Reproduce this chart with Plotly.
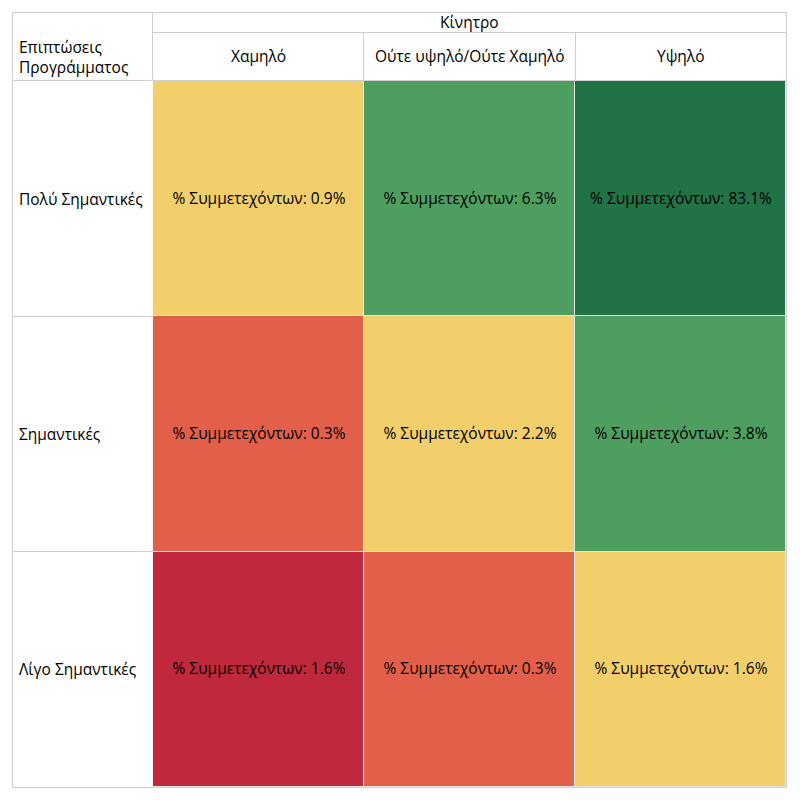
import plotly.graph_objects as go

# ---- data ----
columns = ["Χαμηλό", "Ούτε υψηλό/Ούτε Χαμηλό", "Υψηλό"]
rows = ["Πολύ Σημαντικές", "Σημαντικές", "Λίγο Σημαντικές"]
row_header = "Επιπτώσεις<br>Προγράμματος"
col_header = "Κίνητρο"
pct_very = [0.9, 6.3, 83.1]
pct_important = [0.3, 2.2, 3.8]
pct_little = [1.6, 0.3, 1.6]
level_very = [0, 1, 2]
level_important = [-1, 0, 1]
level_little = [-2, -1, 0]

pct = [pct_very, pct_important, pct_little]
levels = [level_very, level_important, level_little]
text = [[f"% Συμμετεχόντων: {v}%" for v in r] for r in pct]

colorscale = [
    [0.0, "#C0283E"], [0.2, "#C0283E"],
    [0.2, "#E2604A"], [0.4, "#E2604A"],
    [0.4, "#F2CF6A"], [0.6, "#F2CF6A"],
    [0.6, "#4E9E60"], [0.8, "#4E9E60"],
    [0.8, "#217346"], [1.0, "#217346"],
]

OFF = 8  # page body margin
W, H = 784, 784
L, T = 153 - OFF, 81 - OFF
R, B = W - (786 - OFF), H - (787 - OFF)
pw, ph = W - L - R, H - T - B

def px(x):
    return (x - OFF - L) / pw

def py(y):
    return 1 - (y - OFF - T) / ph

FONT = "Open Sans"
FS = 15.5

fig = go.Figure(go.Heatmap(
    z=levels, x=columns, y=rows, zmin=-2.5, zmax=2.5,
    colorscale=colorscale, showscale=False,
    text=text, texttemplate="%{text}",
    textfont=dict(family=FONT, size=15.5, color="#000000"),
    xgap=1, ygap=1, hoverinfo="text",
))

grid = "#d0d0d0"
shapes = []
def line(x0, y0, x1, y1):
    shapes.append(dict(type="line", xref="paper", yref="paper",
                       x0=px(x0), y0=py(y0), x1=px(x1), y1=py(y1),
                       line=dict(color=grid, width=1), layer="above"))

line(12, 12.5, 786.5, 12.5)          # top
line(12.5, 12, 12.5, 787)            # left
line(786.5, 12, 786.5, 787)          # right
line(12, 787.5, 786.5, 787.5)        # bottom
line(152.5, 12, 152.5, 80)           # header divider
line(152, 32.5, 786.5, 32.5)         # header mid
line(363.5, 32, 363.5, 80)
line(575.5, 32, 575.5, 80)
line(12, 80.5, 786.5, 80.5)
line(12, 316.5, 153, 316.5)
line(12, 551.5, 153, 551.5)

ann = [
    dict(text=col_header, x=px(469), y=py(22), xref="paper", yref="paper",
         showarrow=False, xanchor="center", yanchor="middle"),
    dict(text=row_header, x=px(17), y=py(57), xref="paper", yref="paper",
         showarrow=False, xanchor="left", yanchor="middle", align="left"),
]
for c in columns:
    ann.append(dict(text=c, x=c, y=py(56), xref="x", yref="paper",
                    showarrow=False, xanchor="center", yanchor="middle"))
for r in rows:
    ann.append(dict(text=r, x=px(17), y=r, xref="paper", yref="y",
                    showarrow=False, xanchor="left", yanchor="middle"))

fig.update_layout(
    width=W, height=H,
    margin=dict(l=L, r=R, t=T, b=B, pad=0),
    paper_bgcolor="white", plot_bgcolor="#e6e6e6",
    font=dict(family=FONT, size=FS, color="#000000"),
    xaxis=dict(visible=False, range=[-0.5, 2.5]),
    yaxis=dict(visible=False, autorange="reversed"),
    shapes=shapes, annotations=ann,
)

fig.write_html("out.html")
